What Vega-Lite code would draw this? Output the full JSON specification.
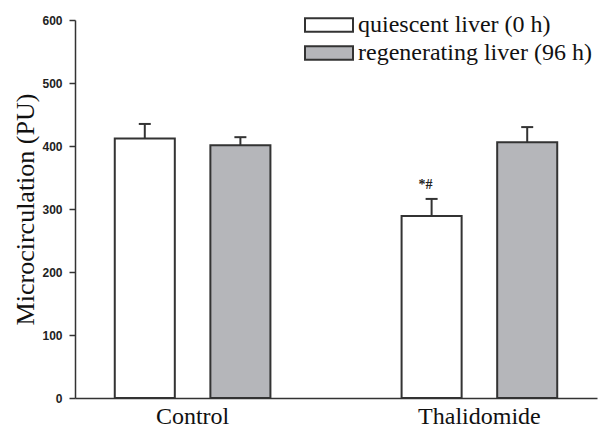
{
  "$schema": "https://vega.github.io/schema/vega-lite/v6.json",
  "width": 522,
  "height": 378,
  "autosize": "none",
  "padding": {"left": 75, "top": 20, "right": 1, "bottom": 30},
  "background": "white",
  "config": {"view": {"stroke": null}, "font": "Liberation Serif"},
  "data": {
    "values": [
      {"group": "Control", "liver": "quiescent liver (0 h)", "value": 412, "upper": 435, "note": ""},
      {"group": "Control", "liver": "regenerating liver (96 h)", "value": 401, "upper": 414, "note": ""},
      {"group": "Thalidomide", "liver": "quiescent liver (0 h)", "value": 289, "upper": 316, "note": "*#"},
      {"group": "Thalidomide", "liver": "regenerating liver (96 h)", "value": 406, "upper": 430, "note": ""}
    ]
  },
  "encoding": {
    "x": {
      "field": "group",
      "type": "nominal",
      "scale": {"paddingInner": 0.18, "paddingOuter": 0},
      "axis": {
        "title": null,
        "labelAngle": 0,
        "ticks": false,
        "labelFont": "Liberation Serif",
        "labelFontSize": 24,
        "labelColor": "#111",
        "labelPadding": 6,
        "domainColor": "#333",
        "domainWidth": 1.5,
        "encode": {"labels": {"update": {"dx": {"signal": "datum.value === 'Control' ? -20 : -10"}}}}
      }
    },
    "xOffset": {
      "field": "liver",
      "type": "nominal",
      "scale": {"paddingInner": 0.372, "paddingOuter": 0.416}
    }
  },
  "layer": [
    {
      "mark": {"type": "bar", "stroke": "#333", "strokeWidth": 2},
      "encoding": {
        "y": {
          "field": "value",
          "type": "quantitative",
          "scale": {"domain": [0, 600]},
          "axis": {
            "title": "Microcirculation (PU)",
            "titleFont": "Liberation Serif",
            "titleFontSize": 26,
            "titleFontWeight": "normal",
            "titleColor": "#111",
            "titlePadding": 3,
            "values": [0, 100, 200, 300, 400, 500, 600],
            "grid": false,
            "tickSize": 6,
            "tickColor": "#333",
            "tickWidth": 1.5,
            "domainColor": "#333",
            "domainWidth": 1.5,
            "labelFont": "Liberation Sans",
            "labelFontWeight": "bold",
            "labelFontSize": 12,
            "labelColor": "#222",
            "labelPadding": 7
          }
        },
        "fill": {
          "field": "liver",
          "type": "nominal",
          "scale": {"range": ["#ffffff", "#b5b6ba"]},
          "legend": {
            "title": null,
            "orient": "none",
            "legendX": 241,
            "legendY": -8,
            "symbolType": "M-2,-0.56H2V0.56H-2Z",
            "symbolSize": 576,
            "symbolStrokeColor": "#333",
            "symbolStrokeWidth": 2,
            "symbolOpacity": 1,
            "labelFont": "Liberation Serif",
            "labelFontSize": 24,
            "labelColor": "#111",
            "labelOffset": 16,
            "labelLimit": 400,
            "rowPadding": 3
          }
        }
      }
    },
    {
      "mark": {"type": "rule", "stroke": "#333", "strokeWidth": 2},
      "encoding": {
        "y": {"field": "value", "type": "quantitative"},
        "y2": {"field": "upper"}
      }
    },
    {
      "mark": {"type": "tick", "thickness": 2, "size": 12, "color": "#333", "opacity": 1},
      "encoding": {
        "y": {"field": "upper", "type": "quantitative"}
      }
    },
    {
      "mark": {"type": "text", "dy": -14, "dx": -6, "fontSize": 14, "fontWeight": "bold", "color": "#222"},
      "encoding": {
        "y": {"field": "upper", "type": "quantitative"},
        "text": {"field": "note"}
      }
    }
  ]
}
